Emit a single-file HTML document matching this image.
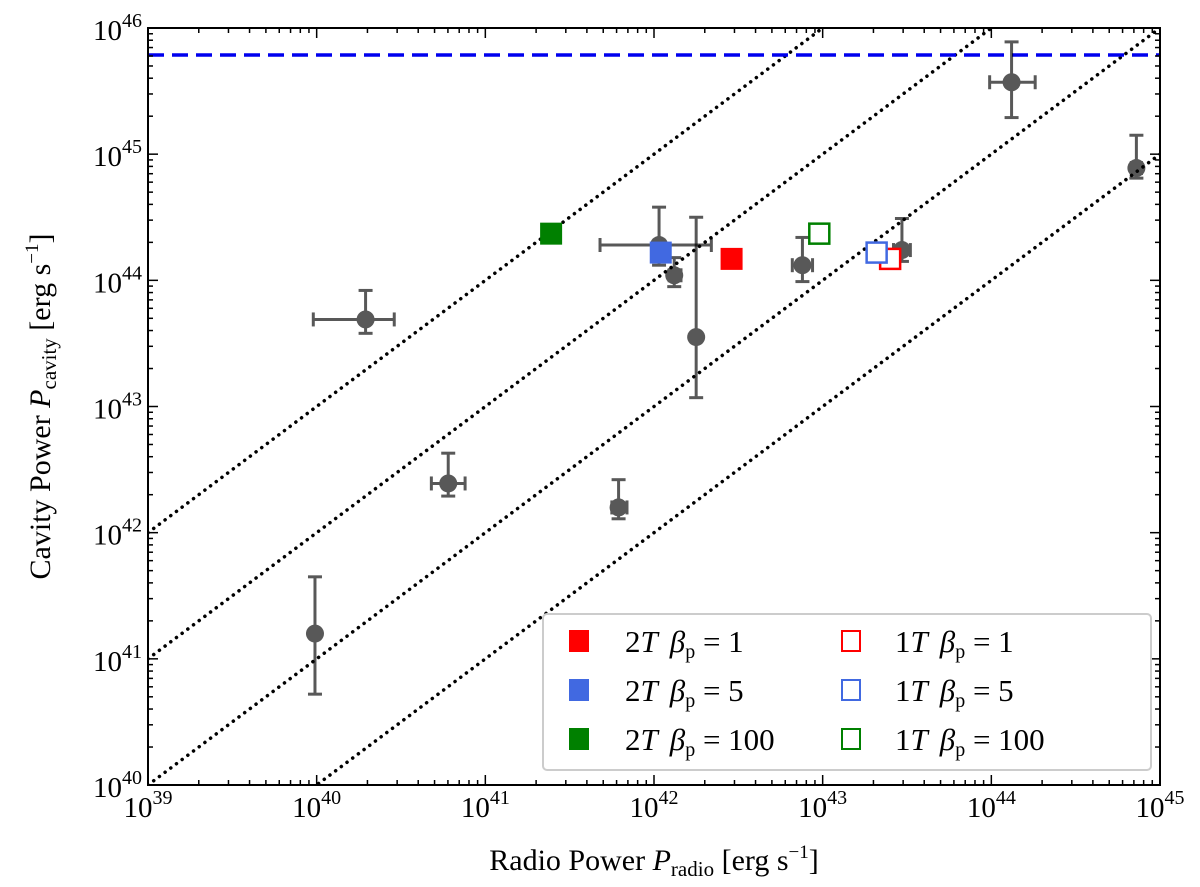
<!DOCTYPE html>
<html><head><meta charset="utf-8"><style>
html,body{margin:0;padding:0;background:#fff;}
svg{display:block;font-family:"Liberation Serif",serif;}
</style></head><body>
<svg id="chart" width="1200" height="887" viewBox="0 0 1200 887"></svg>
<script>
// data (log10 values)
const ptX = [39.99, 40.29, 40.78, 41.79, 42.03, 42.12, 42.25, 42.88, 43.47, 44.12, 44.86];
const ptY = [41.20, 43.69, 42.39, 42.20, 44.28, 44.04, 43.55, 44.12, 44.24, 45.57, 44.89];
const ptYHi = [41.65, 43.92, 42.63, 42.42, 44.58, 44.18, 44.50, 44.34, 44.49, 45.89, 45.15];
const ptYLo = [40.72, 43.58, 42.29, 42.11, 44.12, 43.95, 43.07, 43.99, 44.15, 45.29, 44.81];
const ptXLo = [39.99, 39.98, 40.68, 41.75, 41.68, 42.09, 42.25, 42.82, 43.42, 43.99, 44.83];
const ptXHi = [39.99, 40.46, 40.88, 41.84, 42.34, 42.16, 42.25, 42.94, 43.52, 44.26, 44.89];
const sqX = [42.46, 42.04, 41.39, 43.40, 43.32, 42.98];
const sqY = [44.17, 44.22, 44.37, 44.17, 44.22, 44.37];
const sqColor = ['#ff0000','#4169e1','#008000','#ff0000','#4169e1','#008000'];
const sqFilled = [true,true,true,false,false,false];
const lineFactors = [3, 2, 1, 0];
const limitY = 45.786;
const xTicks = [39,40,41,42,43,44,45];
const yTicks = [40,41,42,43,44,45,46];

const L=148,R=1160,T=28,B=785;
const sx=v=>L+(v-39)/6*(R-L);
const sy=v=>B-(v-40)/6*(B-T);
const svg=document.getElementById('chart');
const NS='http://www.w3.org/2000/svg';
function mk(tag,attrs,parent){const e=document.createElementNS(NS,tag);for(const k in attrs)e.setAttribute(k,attrs[k]);(parent||svg).appendChild(e);return e;}

const defs=mk('clipPath',{id:'clip'});mk('rect',{x:L,y:T,width:R-L,height:B-T},defs);
const plot=mk('g',{'clip-path':'url(#clip)'});



lineFactors.forEach((f,i)=>{
  const l=mk('line',{x1:sx(39),y1:sy(39+f),x2:sx(45),y2:sy(45+f),stroke:'#000','stroke-width':3.5,'stroke-dasharray':'0.1 7','stroke-linecap':'round'},plot);
  
  
});
const dl=mk('line',{x1:L,x2:R,y1:sy(limitY),y2:sy(limitY),stroke:'#0000ee','stroke-width':3.5,'stroke-dasharray':'16 8'},plot);



ptX.forEach((x,i)=>{
  const g=mk('g',{opacity:0.65},plot);
  
  
  const cx=sx(x),cy=sy(ptY[i]);
  mk('line',{x1:cx,x2:cx,y1:sy(ptYHi[i]),y2:sy(ptYLo[i]),stroke:'#000','stroke-width':3},g);
  mk('line',{x1:cx-7,x2:cx+7,y1:sy(ptYHi[i]),y2:sy(ptYHi[i]),stroke:'#000','stroke-width':3},g);
  mk('line',{x1:cx-7,x2:cx+7,y1:sy(ptYLo[i]),y2:sy(ptYLo[i]),stroke:'#000','stroke-width':3},g);
  if(ptXHi[i]-ptXLo[i]>0.001){
    mk('line',{x1:sx(ptXLo[i]),x2:sx(ptXHi[i]),y1:cy,y2:cy,stroke:'#000','stroke-width':3},g);
    mk('line',{x1:sx(ptXLo[i]),x2:sx(ptXLo[i]),y1:cy-7,y2:cy+7,stroke:'#000','stroke-width':3},g);
    mk('line',{x1:sx(ptXHi[i]),x2:sx(ptXHi[i]),y1:cy-7,y2:cy+7,stroke:'#000','stroke-width':3},g);
  }
  mk('circle',{cx,cy,r:9,fill:'#000'},g);
});

sqX.forEach((x,i)=>{
  const cx=sx(x),cy=sy(sqY[i]);
  const r=sqFilled[i]?mk('rect',{x:cx-11,y:cy-11,width:22,height:22,fill:sqColor[i]},plot)
    :mk('rect',{x:cx-10,y:cy-10,width:20,height:20,fill:'#fff',stroke:sqColor[i],'stroke-width':2.5},plot);
  
  
});

const fr=mk('rect',{x:L,y:T,width:R-L,height:B-T,fill:'none',stroke:'#000','stroke-width':2});



const tg=mk('g',{stroke:'#000','stroke-width':1.5});


for(let d=39;d<45;d++)for(let k=1;k<10;k++){
  const x=sx(d+Math.log10(k));const len=k===1?10:5;
  mk('line',{x1:x,x2:x,y1:B,y2:B-len},tg);mk('line',{x1:x,x2:x,y1:T,y2:T+len},tg);
}
for(let d=40;d<46;d++)for(let k=1;k<10;k++){
  const y=sy(d+Math.log10(k));const len=k===1?10:5;
  mk('line',{y1:y,y2:y,x1:L,x2:L+len},tg);mk('line',{y1:y,y2:y,x1:R,x2:R-len},tg);
}
xTicks.forEach(v=>{
  const t=mk('text',{x:sx(v),y:B+32,'text-anchor':'middle','font-size':29});
  
  
  t.innerHTML='10<tspan dy="-13" font-size="20">'+v+'</tspan>';
});
yTicks.forEach(v=>{
  const t=mk('text',{x:L-6,y:sy(v)+12,'text-anchor':'end','font-size':29});
  
  
  t.innerHTML='10<tspan dy="-13" font-size="20">'+v+'</tspan>';
});
const xt=mk('text',{x:(L+R)/2,y:870,'text-anchor':'middle','font-size':30});


xt.innerHTML='Radio Power <tspan font-style="italic">P</tspan><tspan dy="6" font-size="21">radio</tspan><tspan dy="-6"> [erg s</tspan><tspan dy="-12" font-size="19">−1</tspan><tspan dy="12">]</tspan>';
const yt=mk('text',{x:0,y:0,'text-anchor':'middle','font-size':30,transform:'translate(50,'+((T+B)/2)+') rotate(-90)'});


yt.innerHTML='Cavity Power <tspan font-style="italic">P</tspan><tspan dy="6" font-size="21">cavity</tspan><tspan dy="-6"> [erg s</tspan><tspan dy="-12" font-size="19">−1</tspan><tspan dy="12">]</tspan>';

const lg=mk('g',{});


mk('rect',{x:543,y:614,width:608,height:156,rx:4,fill:'#fff',stroke:'#ccc','stroke-width':2},lg);
const labs=['2<tspan font-style="italic">T</tspan><tspan dx="12" font-style="italic">β</tspan><tspan dy="6" font-size="20">p</tspan><tspan dy="-6"> = 1</tspan>',
'2<tspan font-style="italic">T</tspan><tspan dx="12" font-style="italic">β</tspan><tspan dy="6" font-size="20">p</tspan><tspan dy="-6"> = 5</tspan>',
'2<tspan font-style="italic">T</tspan><tspan dx="12" font-style="italic">β</tspan><tspan dy="6" font-size="20">p</tspan><tspan dy="-6"> = 100</tspan>'];
for(let i=0;i<6;i++){
  const col=i<3?0:1,row=i%3;
  const mx=col?851:579,my=641+row*49;
  const e=mk('g',{},lg);
  
  
  if(sqFilled[i]) mk('rect',{x:mx-10,y:my-11,width:20,height:22,fill:sqColor[i]},e);
  else mk('rect',{x:mx-9,y:my-10,width:18,height:20,fill:'#fff',stroke:sqColor[i],'stroke-width':2},e);
  const t=mk('text',{x:col?895:625,y:my+11,'font-size':31},e);
  t.innerHTML=col?labs[row].replace('2<','1<'):labs[row];
}
</script>
</body></html>
